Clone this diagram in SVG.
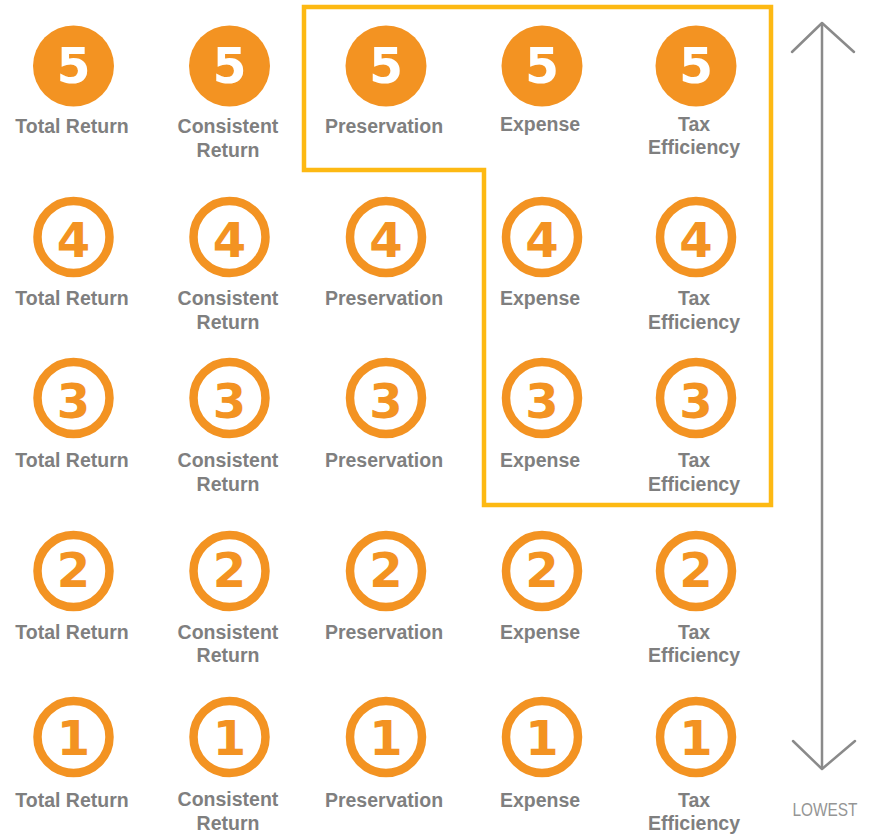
<svg xmlns="http://www.w3.org/2000/svg" width="878" height="839" viewBox="0 0 878 839">
<style>
.fill{fill:#F39322;}
.ring{fill:none;stroke:#F39322;stroke-width:8.5;}
.numw{font-family:"DejaVu Sans",sans-serif;font-weight:bold;font-size:49px;fill:#FFFFFF;text-anchor:middle;}
.numo{font-family:"DejaVu Sans",sans-serif;font-weight:bold;font-size:48px;fill:#F39322;text-anchor:middle;}
.lbl{font-family:"Liberation Sans",Arial,sans-serif;font-weight:bold;font-size:19.5px;fill:#7F7F7F;text-anchor:middle;}
.arr{fill:none;stroke:#8A8A8A;stroke-width:2.5;stroke-linecap:round;stroke-linejoin:round;}
.low{font-family:"Liberation Sans",Arial,sans-serif;font-size:17.5px;fill:#959595;text-anchor:middle;}
</style>
<rect width="878" height="839" fill="#FFFFFF"/>
<g id="highlight">
<path d="M304,7 H771 V505 H484 V170 H304 Z" fill="none" stroke="#FDB913" stroke-width="4.5"/>
</g>
<g id="connectors">
<line class="arr" x1="822" y1="26" x2="822" y2="767"/>
<polyline class="arr" points="792,52 822,23 854,52"/>
<polyline class="arr" points="793,741 822,769 855,741"/>
</g>
<g id="lowest-label"><text class="low" x="825" y="816" textLength="65" lengthAdjust="spacingAndGlyphs">LOWEST</text></g>

<!-- Row 5 -->
<g id="r5-total"><circle class="fill" cx="73.5" cy="66" r="40.5"/><text class="numw" x="73.5" y="83">5</text><text class="lbl" x="72" y="133">Total Return</text></g>
<g id="r5-consistent"><circle class="fill" cx="229.5" cy="66" r="40.5"/><text class="numw" x="229.5" y="83">5</text><text class="lbl" x="228" y="133">Consistent</text><text class="lbl" x="228" y="156.5">Return</text></g>
<g id="r5-preservation"><circle class="fill" cx="386" cy="66" r="40.5"/><text class="numw" x="386" y="83">5</text><text class="lbl" x="384" y="133">Preservation</text></g>
<g id="r5-expense"><circle class="fill" cx="542" cy="66" r="40.5"/><text class="numw" x="542" y="83">5</text><text class="lbl" x="540" y="130.5">Expense</text></g>
<g id="r5-tax"><circle class="fill" cx="696" cy="66" r="40.5"/><text class="numw" x="696" y="83">5</text><text class="lbl" x="694" y="130.5">Tax</text><text class="lbl" x="694" y="154">Efficiency</text></g>

<!-- Row 4 -->
<g id="r4-total"><circle class="ring" cx="73.5" cy="237" r="36"/><text class="numo" x="73.5" y="256.5">4</text><text class="lbl" x="72" y="305">Total Return</text></g>
<g id="r4-consistent"><circle class="ring" cx="229.5" cy="237" r="36"/><text class="numo" x="229.5" y="256.5">4</text><text class="lbl" x="228" y="305">Consistent</text><text class="lbl" x="228" y="328.5">Return</text></g>
<g id="r4-preservation"><circle class="ring" cx="386" cy="237" r="36"/><text class="numo" x="386" y="256.5">4</text><text class="lbl" x="384" y="305">Preservation</text></g>
<g id="r4-expense"><circle class="ring" cx="542" cy="237" r="36"/><text class="numo" x="542" y="256.5">4</text><text class="lbl" x="540" y="305">Expense</text></g>
<g id="r4-tax"><circle class="ring" cx="696" cy="237" r="36"/><text class="numo" x="696" y="256.5">4</text><text class="lbl" x="694" y="305">Tax</text><text class="lbl" x="694" y="328.5">Efficiency</text></g>

<!-- Row 3 -->
<g id="r3-total"><circle class="ring" cx="73.5" cy="398" r="36"/><text class="numo" x="73.5" y="417.5">3</text><text class="lbl" x="72" y="467">Total Return</text></g>
<g id="r3-consistent"><circle class="ring" cx="229.5" cy="398" r="36"/><text class="numo" x="229.5" y="417.5">3</text><text class="lbl" x="228" y="467">Consistent</text><text class="lbl" x="228" y="490.5">Return</text></g>
<g id="r3-preservation"><circle class="ring" cx="386" cy="398" r="36"/><text class="numo" x="386" y="417.5">3</text><text class="lbl" x="384" y="467">Preservation</text></g>
<g id="r3-expense"><circle class="ring" cx="542" cy="398" r="36"/><text class="numo" x="542" y="417.5">3</text><text class="lbl" x="540" y="467">Expense</text></g>
<g id="r3-tax"><circle class="ring" cx="696" cy="398" r="36"/><text class="numo" x="696" y="417.5">3</text><text class="lbl" x="694" y="467">Tax</text><text class="lbl" x="694" y="490.5">Efficiency</text></g>

<!-- Row 2 -->
<g id="r2-total"><circle class="ring" cx="73.5" cy="571" r="36"/><text class="numo" x="73.5" y="587">2</text><text class="lbl" x="72" y="638.5">Total Return</text></g>
<g id="r2-consistent"><circle class="ring" cx="229.5" cy="571" r="36"/><text class="numo" x="229.5" y="587">2</text><text class="lbl" x="228" y="638.5">Consistent</text><text class="lbl" x="228" y="662">Return</text></g>
<g id="r2-preservation"><circle class="ring" cx="386" cy="571" r="36"/><text class="numo" x="386" y="587">2</text><text class="lbl" x="384" y="638.5">Preservation</text></g>
<g id="r2-expense"><circle class="ring" cx="542" cy="571" r="36"/><text class="numo" x="542" y="587">2</text><text class="lbl" x="540" y="638.5">Expense</text></g>
<g id="r2-tax"><circle class="ring" cx="696" cy="571" r="36"/><text class="numo" x="696" y="587">2</text><text class="lbl" x="694" y="638.5">Tax</text><text class="lbl" x="694" y="662">Efficiency</text></g>

<!-- Row 1 -->
<g id="r1-total"><circle class="ring" cx="73.5" cy="737" r="36"/><text class="numo" x="73.5" y="755">1</text><text class="lbl" x="72" y="806.5">Total Return</text></g>
<g id="r1-consistent"><circle class="ring" cx="229.5" cy="737" r="36"/><text class="numo" x="229.5" y="755">1</text><text class="lbl" x="228" y="806">Consistent</text><text class="lbl" x="228" y="829.5">Return</text></g>
<g id="r1-preservation"><circle class="ring" cx="386" cy="737" r="36"/><text class="numo" x="386" y="755">1</text><text class="lbl" x="384" y="806.5">Preservation</text></g>
<g id="r1-expense"><circle class="ring" cx="542" cy="737" r="36"/><text class="numo" x="542" y="755">1</text><text class="lbl" x="540" y="806.5">Expense</text></g>
<g id="r1-tax"><circle class="ring" cx="696" cy="737" r="36"/><text class="numo" x="696" y="755">1</text><text class="lbl" x="694" y="806.5">Tax</text><text class="lbl" x="694" y="830">Efficiency</text></g>
</svg>
